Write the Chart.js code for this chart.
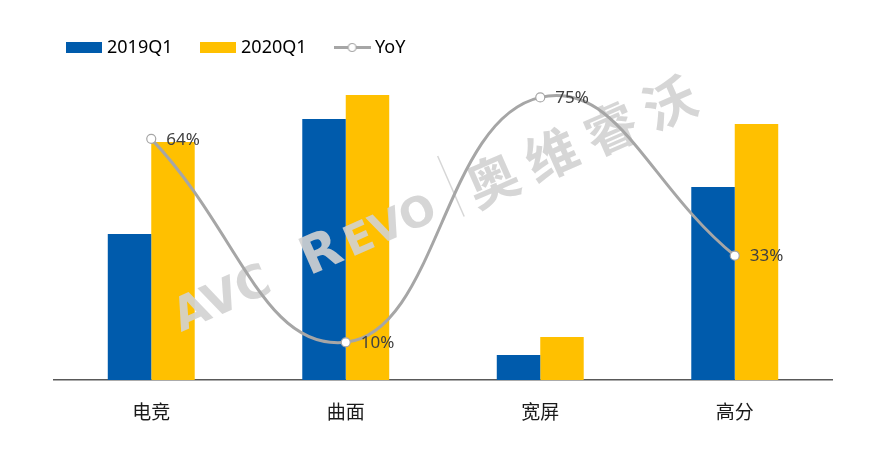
<!DOCTYPE html>
<html><head><meta charset="utf-8">
<script src="https://cdn.jsdelivr.net/npm/chart.js@4/dist/chart.umd.min.js"></script>
<style>html,body{margin:0;padding:0;background:#fff}</style>
</head><body>
<canvas id="c" width="880" height="449"></canvas>
<script>
const categories = ['电竞', '曲面', '宽屏', '高分'];
const sales2019Q1 = [14.6, 26.1, 2.5, 19.3];
const sales2020Q1 = [23.8, 28.5, 4.3, 25.6];
const yoyPercent = [64, 10, 75, 33];
const seriesNames = ['2019Q1', '2020Q1', 'YoY'];
const watermarkLatin = ['AVC', 'R', 'EVO'];
const watermarkChinese = ['奥', '维', '睿', '沃'];

const BLUE = '#005bac', YELLOW = '#ffc000', GRAY = '#a6a6a6';
const LATIN = '"Noto Sans", "Noto Sans CJK SC", sans-serif';
const CJK = '"Noto Sans CJK SC", "Noto Sans", sans-serif';

function boxIcon(color) {
  const c = document.createElement('canvas');
  c.width = 36; c.height = 11;
  const g = c.getContext('2d');
  g.fillStyle = color; g.fillRect(0, 0, 36, 11);
  return c;
}
function lineIcon() {
  const c = document.createElement('canvas');
  c.width = 37; c.height = 11;
  const g = c.getContext('2d');
  g.strokeStyle = GRAY; g.lineWidth = 3;
  g.beginPath(); g.moveTo(0, 5.5); g.lineTo(37, 5.5); g.stroke();
  g.beginPath(); g.arc(18.5, 5.5, 4, 0, Math.PI * 2);
  g.fillStyle = '#fff'; g.fill();
  g.lineWidth = 1.2; g.strokeStyle = GRAY; g.stroke();
  return c;
}
const legendIcons = [boxIcon(BLUE), boxIcon(YELLOW), lineIcon()];

const watermarkPlugin = {
  id: 'watermark',
  beforeDatasetDraw(chart, args) {
    if (args.index !== 2) return;
    const ctx = chart.ctx;
    ctx.save();
    ctx.translate(181, 332);
    ctx.rotate(-23.7 * Math.PI / 180);
    ctx.fillStyle = 'rgba(210,210,210,0.9)';
    ctx.textBaseline = 'alphabetic';
    ctx.textAlign = 'left';
    ctx.font = 'bold 46px "DejaVu Sans", sans-serif';
    ctx.fillText(watermarkLatin[0], 0, 0, 112);
    ctx.font = 'bold 52px "DejaVu Sans", sans-serif';
    ctx.fillText(watermarkLatin[1], 140, 0, 42);
    ctx.font = 'bold 42px "DejaVu Sans", sans-serif';
    ctx.fillText(watermarkLatin[2], 186, 0, 112);
    ctx.fillRect(305, -58, 1.5, 66);
    ctx.font = 'bold 52px ' + CJK;
    watermarkChinese.forEach((ch, i) => ctx.fillText(ch, 320 + i * 64.5, 6));
    ctx.restore();
  }
};

const labelPlugin = {
  id: 'yoyLabels',
  afterDatasetsDraw(chart) {
    const meta = chart.getDatasetMeta(2);
    const ctx = chart.ctx;
    ctx.save();
    ctx.font = '17px ' + LATIN;
    ctx.fillStyle = '#404040';
    ctx.textAlign = 'left';
    ctx.textBaseline = 'middle';
    meta.data.forEach((pt, i) => {
      ctx.fillText(yoyPercent[i] + '%', pt.x + 15, pt.y + 1);
    });
    ctx.restore();
  }
};

new Chart(document.getElementById('c'), {
  type: 'bar',
  data: {
    labels: categories,
    datasets: [
      { label: seriesNames[0], data: sales2019Q1, backgroundColor: BLUE, yAxisID: 'y', order: 2,
        barPercentage: 1, categoryPercentage: 0.447 },
      { label: seriesNames[1], data: sales2020Q1, backgroundColor: YELLOW, yAxisID: 'y', order: 2,
        barPercentage: 1, categoryPercentage: 0.447 },
      { label: seriesNames[2], type: 'line', data: yoyPercent, yAxisID: 'y1', order: 1,
        borderColor: GRAY, borderWidth: 3, tension: 0.45,
        pointRadius: 4.5, pointBackgroundColor: '#ffffff', pointBorderColor: GRAY, pointBorderWidth: 1.2 }
    ]
  },
  options: {
    responsive: false,
    devicePixelRatio: 1,
    animation: false,
    layout: { padding: { left: 38.5, right: 48, top: 7, bottom: 0 } },
    plugins: {
      tooltip: { enabled: false },
      legend: {
        position: 'top',
        align: 'start',
        labels: {
          usePointStyle: true,
          pointStyleWidth: 28,
          boxHeight: 11,
          padding: 31.5,
          color: '#262626',
          font: { size: 18, family: LATIN },
          generateLabels: (chart) => chart.data.datasets.map((ds, i) => ({
            text: ds.label, pointStyle: legendIcons[i], fillStyle: '#fff',
            strokeStyle: '#fff', lineWidth: 0, hidden: false, datasetIndex: i
          }))
        }
      }
    },
    scales: {
      x: {
        grid: { display: false, drawTicks: false },
        border: { display: true, color: '#595959', width: 1.5 },
        ticks: { color: '#1a1a1a', padding: 20, font: { size: 19, family: CJK } },
        afterFit: (s) => { s.height = 69; }
      },
      y: {
        min: 0, max: 31.35,
        grid: { display: false },
        border: { display: false },
        ticks: { display: false },
        afterFit: (s) => { s.width = 15.5; }
      },
      y1: {
        display: false, min: 0, max: 83.2
      }
    }
  },
  plugins: [watermarkPlugin, labelPlugin]
});
</script>
</body></html>
